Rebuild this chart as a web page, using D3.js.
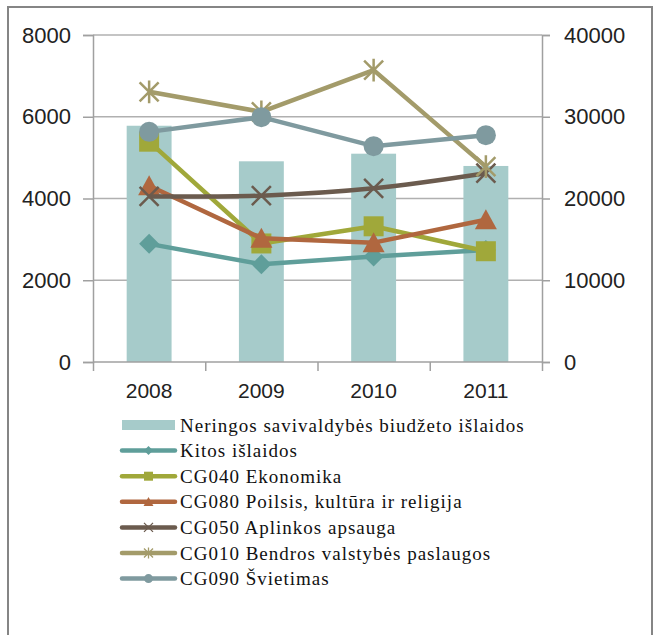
<!DOCTYPE html>
<html><head><meta charset="utf-8">
<script src="https://cdnjs.cloudflare.com/ajax/libs/d3/7.8.5/d3.min.js"></script>
<style>body{margin:0;background:#fff}svg{display:block}</style>
</head><body>
<svg id="c" width="655" height="635"></svg>
<script>
const years = ["2008","2009","2010","2011"];
const budgetTotal = [28900, 24550, 25480, 23980];   // right axis (bars)
const kitos      = [2890, 2390, 2580, 2740];
const ekonomika  = [5390, 2900, 3320, 2710];
const poilsis    = [4310, 3030, 2920, 3480];
const aplinkos   = [4050, 4070, 4250, 4620];
const bendros    = [6610, 6120, 7140, 4780];
const svietimas  = [5630, 5990, 5280, 5550];
const leftTicks  = [0, 2000, 4000, 6000, 8000];
const rightTicks = [0, 10000, 20000, 30000, 40000];
const barName = "Neringos savivaldybės biudžeto išlaidos";
const lineNames = ["Kitos išlaidos","CG040 Ekonomika","CG080 Poilsis, kultūra ir religija","CG050 Aplinkos apsauga","CG010 Bendros valstybės paslaugos","CG090 Švietimas"];

const series = [
  {name: lineNames[0], values: kitos,     color: "#5f9e9a", marker: "diamond", smooth: false},
  {name: lineNames[1], values: ekonomika, color: "#a0a83a", marker: "square",  smooth: false},
  {name: lineNames[2], values: poilsis,   color: "#b0673f", marker: "triangle",smooth: false},
  {name: lineNames[3], values: aplinkos,  color: "#6b5b4e", marker: "x",       smooth: true},
  {name: lineNames[4], values: bendros,   color: "#a39b6a", marker: "star",    smooth: false},
  {name: lineNames[5], values: svietimas, color: "#7f9a9f", marker: "circle",  smooth: false}
];
const barColor = "#a6cbca";

const svg = d3.select("#c");
const L = 93, R = 542, T = 35, B = 362;
const x = d3.scaleBand().domain(years).range([L, R]).paddingInner(0.6).paddingOuter(0.3);
const xc = d => x(d) + x.bandwidth()/2;
const yL = d3.scaleLinear().domain([0, 8000]).range([B, T]);
const yR = d3.scaleLinear().domain([0, 40000]).range([B, T]);
const axisColor = "#a0a0a0";
const tickFont = "'Liberation Sans', Arial, sans-serif";
const serif = "'Liberation Serif', 'Times New Roman', serif";

// frame
svg.append("path").attr("d", "M8,635 L8,7 L652,7 L652,635").attr("fill","none").attr("stroke","#858585").attr("stroke-width",2);

// gridlines
svg.append("g").selectAll("line").data(leftTicks.filter(d=>d>0)).join("line")
  .attr("x1", L).attr("x2", R).attr("y1", d=>yL(d)).attr("y2", d=>yL(d))
  .attr("stroke", "#b0b0b0").attr("stroke-width", 1.3);

// bars
svg.append("g").selectAll("rect").data(years).join("rect")
  .attr("x", d=>x(d)).attr("width", x.bandwidth())
  .attr("y", (d,i)=>yR(budgetTotal[i])).attr("height", (d,i)=>B - yR(budgetTotal[i]))
  .attr("fill", barColor);

// axes
const gl = svg.append("g").attr("transform", `translate(${L},0)`)
  .call(d3.axisLeft(yL).tickValues(leftTicks).tickSize(10).tickPadding(12).tickFormat(d3.format("d")));
const gr = svg.append("g").attr("transform", `translate(${R},0)`)
  .call(d3.axisRight(yR).tickValues(rightTicks).tickSize(8).tickPadding(14).tickFormat(d3.format("d")));
const xb = d3.scalePoint().domain(d3.range(5)).range([L, R]);
const gb = svg.append("g").attr("transform", `translate(0,${B})`)
  .call(d3.axisBottom(xb).tickSize(9).tickFormat(""));
[gl, gr, gb].forEach(g => {
  g.select(".domain").attr("stroke", axisColor).attr("stroke-width", 1.5);
  g.selectAll(".tick line").attr("stroke", axisColor).attr("stroke-width", 1.5);
  g.selectAll("text").attr("font-family", tickFont).attr("font-size", 22).attr("fill", "#222");
});
gb.select(".domain").attr("d", `M${L},0H${R}`);
// year labels
svg.append("g").selectAll("text").data(years).join("text")
  .attr("x", d=>xc(d)).attr("y", 398).attr("text-anchor","middle")
  .attr("font-family", tickFont).attr("font-size", 21).attr("fill","#222").text(d=>d);

function markerPath(type, s) {
  const h = s/2;
  switch(type) {
    case "diamond": return `M0,${-h}L${h},0L0,${h}L${-h},0Z`;
    case "square": return `M${-h},${-h}H${h}V${h}H${-h}Z`;
    case "triangle": return `M0,${-h*1.05}L${h*1.1},${h*0.95}L${-h*1.1},${h*0.95}Z`;
    case "x": return `M${-h},${-h}L${h},${h}M${-h},${h}L${h},${-h}`;
    case "star": return `M${-h},${-h}L${h},${h}M${-h},${h}L${h},${-h}M0,${-h*1.2}V${h*1.2}`;
    case "circle": return d3.symbol(d3.symbolCircle, Math.PI*h*h)();
  }
}
function drawMarker(g, type, color, s, sw) {
  const p = g.append("path").attr("d", markerPath(type, s));
  if (type === "x" || type === "star") p.attr("fill","none").attr("stroke", color).attr("stroke-width", sw);
  else p.attr("fill", color);
}

// lines
series.forEach(s => {
  const pts = years.map((y,i)=>[xc(y), yL(s.values[i])]);
  const line = d3.line().curve(s.smooth ? d3.curveCatmullRom.alpha(0.5) : d3.curveLinear);
  const g = svg.append("g");
  g.append("path").attr("d", line(pts)).attr("fill","none").attr("stroke", s.color)
    .attr("stroke-width", 4.5).attr("stroke-linejoin","round");
  pts.forEach(p => {
    const mg = g.append("g").attr("transform", `translate(${p[0]},${p[1]})`);
    drawMarker(mg, s.marker, s.color, s.marker==="x"||s.marker==="star" ? 19 : 20, 2.5);
  });
});

// legend
const lg = svg.append("g");
const lx0 = 122, lx1 = 175, tx = 180, ly0 = 425, dy = 25.6;
lg.append("rect").attr("x", lx0).attr("y", ly0-5).attr("width", lx1-lx0).attr("height", 10).attr("fill", barColor);
lg.append("text").attr("x", tx).attr("y", ly0).attr("dy","0.35em")
  .attr("font-family", serif).attr("font-size", 19).attr("letter-spacing", 1).attr("fill","#111").text(barName);
series.forEach((s,i) => {
  const y = ly0 + dy*(i+1);
  lg.append("line").attr("x1", lx0).attr("x2", lx1).attr("y1", y).attr("y2", y)
    .attr("stroke", s.color).attr("stroke-width", 4.5).attr("stroke-linecap","round");
  const mg = lg.append("g").attr("transform", `translate(${(lx0+lx1)/2},${y})`);
  drawMarker(mg, s.marker, s.color, 9, 1.3);
  lg.append("text").attr("x", tx).attr("y", y).attr("dy","0.35em")
    .attr("font-family", serif).attr("font-size", 19).attr("letter-spacing", 1).attr("fill","#111").text(s.name);
});
</script>
</body></html>
